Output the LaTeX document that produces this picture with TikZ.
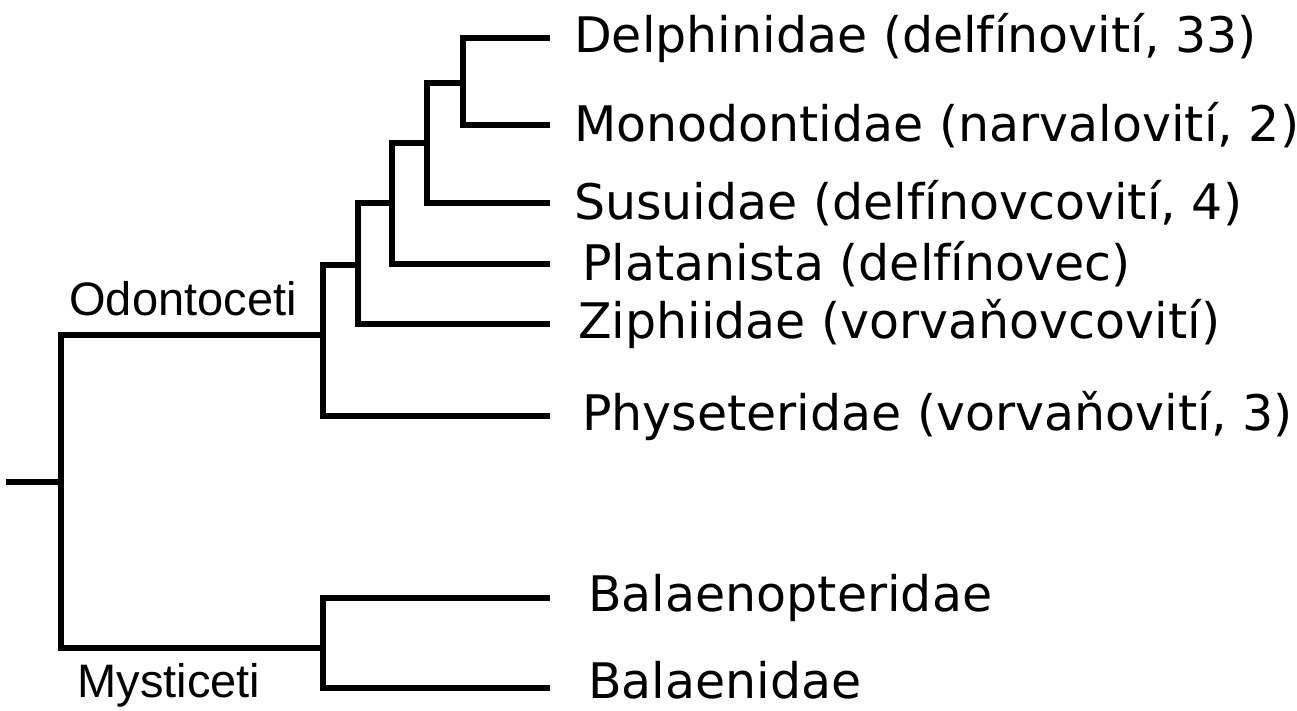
\documentclass[tikz,border=0pt]{standalone}
\usepackage{fontspec}
\setmainfont{DejaVu Sans}
\newfontfamily\grpfont{Liberation Sans}
\usetikzlibrary{positioning}

\begin{document}
\begin{tikzpicture}[
  x=1pt, y=-1pt,
  branch/.style={line width=5.5pt, line join=miter},
  leaf/.style={anchor=west, inner sep=0pt, font=\fontsize{49}{58}\selectfont},
  grp/.style={anchor=base, inner sep=0pt, font=\grpfont\fontsize{47}{56}\selectfont}
]
  \useasboundingbox (0,0) rectangle (1297,710);

  % Inner nodes
  \coordinate (root) at (6,482);
  \coordinate (r)    at (61,482);
  \coordinate (odo)  at (323,335);
  \coordinate (mys)  at (323,648);
  \coordinate (n1)   at (358,265);
  \coordinate (n2)   at (392,203);
  \coordinate (n3)   at (427,143);
  \coordinate (n4)   at (463,83);

  % Tips
  \coordinate (tDelph) at (550,38);
  \coordinate (tMono)  at (550,125);
  \coordinate (tSusu)  at (550,203);
  \coordinate (tPlat)  at (550,264);
  \coordinate (tZiph)  at (550,324);
  \coordinate (tPhys)  at (550,416);
  \coordinate (tBalp)  at (550,598);
  \coordinate (tBaln)  at (550,688);

  % Labels
  \node[leaf, right=24pt of tDelph] (delph) {Delphinidae (delfínovití, 33)};
  \node[leaf, right=24pt of tMono]  (mono)  {Monodontidae (narvalovití, 2)};
  \node[leaf, right=24pt of tSusu]  (susu)  {Susuidae (delfínovcovití, 4)};
  \node[leaf, right=32pt of tPlat]  (plat)  {Platanista (delfínovec)};
  \node[leaf, right=28pt of tZiph]  (ziph)  {Ziphiidae (vorvaňovcovití)};
  \node[leaf, right=32pt of tPhys]  (phys)  {Physeteridae (vorvaňovití, 3)};
  \node[leaf, right=38pt of tBalp]  (balp)  {Balaenopteridae};
  \node[leaf, right=38pt of tBaln, yshift=8pt] (baln) {Balaenidae};

  \node[grp] (odolab) at (183,315) {Odontoceti};
  \node[grp] (myslab) at (169,697) {Mysticeti};

  % Branches
  \draw[branch] (root) -- (r);
  \draw[branch] (r) |- (odo);
  \draw[branch] (r) |- (mys);
  \draw[branch] (odo) |- (n1);
  \draw[branch] (odo) |- (tPhys);
  \draw[branch] (n1) |- (n2);
  \draw[branch] (n1) |- (tZiph);
  \draw[branch] (n2) |- (n3);
  \draw[branch] (n2) |- (tPlat);
  \draw[branch] (n3) |- (n4);
  \draw[branch] (n3) |- (tSusu);
  \draw[branch] (n4) |- (tDelph);
  \draw[branch] (n4) |- (tMono);
  \draw[branch] (mys) |- (tBalp);
  \draw[branch] (mys) |- (tBaln);
\end{tikzpicture}
\end{document}
